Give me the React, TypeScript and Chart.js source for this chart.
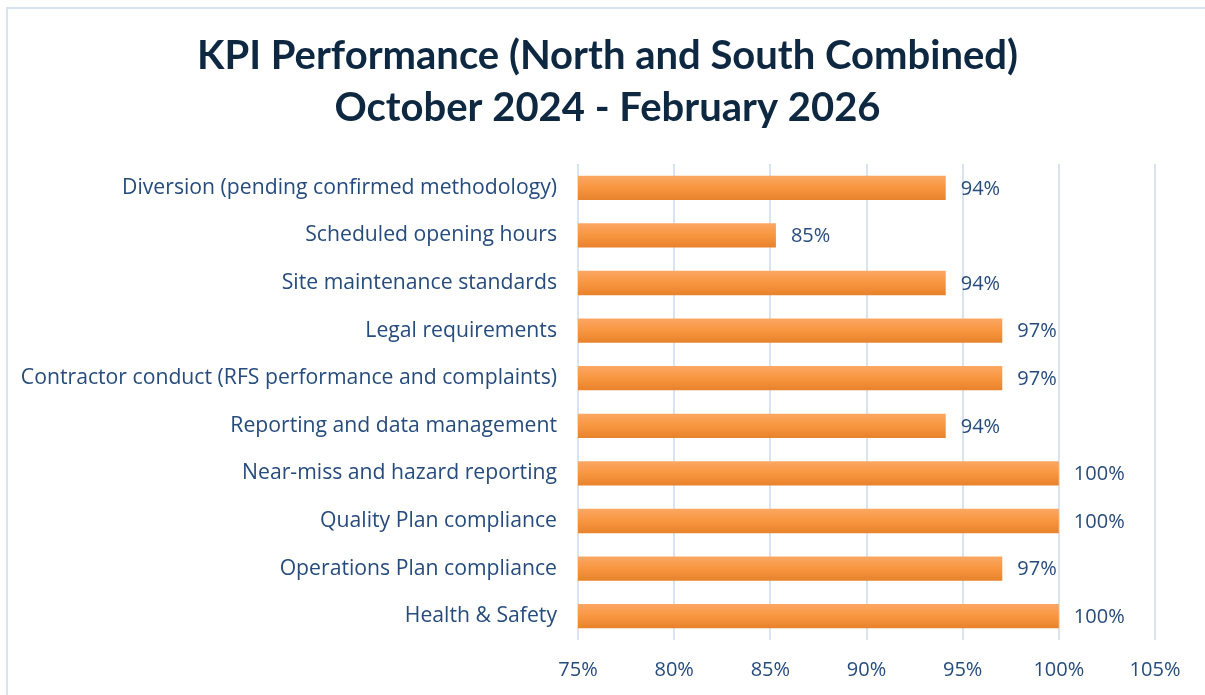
import React, { useEffect, useRef } from "react";
import { Chart, registerables } from "chart.js";

Chart.register(...registerables);

const categories: string[] = [
  "Diversion (pending confirmed methodology)",
  "Scheduled opening hours",
  "Site maintenance standards",
  "Legal requirements",
  "Contractor conduct (RFS performance and complaints)",
  "Reporting and data management",
  "Near-miss and hazard reporting",
  "Quality Plan compliance",
  "Operations Plan compliance",
  "Health & Safety",
];

const kpiValues: number[] = [94.12, 85.29, 94.12, 97.06, 97.06, 94.12, 100, 100, 97.06, 100];

const titleLines: string[] = [
  "KPI Performance (North and South Combined)",
  "October 2024 - February 2026",
];

const xMin = 75;
const xMax = 105;
const xStep = 5;

const FONT = "'Open Sans', Lato, sans-serif";
const TITLE_FONT = "Lato, 'Open Sans', sans-serif";
const LABEL_COLOR = "#264B7D";
const TITLE_COLOR = "#0E2841";
const GRID_COLOR = "#D9E4F3";

const valueLabelPlugin = {
  id: "valueLabels",
  afterDatasetsDraw(chart: any) {
    const { ctx } = chart;
    const meta = chart.getDatasetMeta(0);
    const data = chart.data.datasets[0].data as number[];
    ctx.save();
    ctx.font = `20px ${FONT}`;
    ctx.fillStyle = LABEL_COLOR;
    ctx.textAlign = "left";
    ctx.textBaseline = "middle";
    meta.data.forEach((el: any, i: number) => {
      ctx.fillText(`${Math.round(data[i])}%`, el.x + 15, el.y + 1);
    });
    ctx.restore();
  },
};

export default function App() {
  const canvasRef = useRef<HTMLCanvasElement | null>(null);

  useEffect(() => {
    document.body.style.margin = "0";
    const canvas = canvasRef.current;
    if (!canvas) return;
    const chart = new Chart(canvas, {
      type: "bar",
      data: {
        labels: categories,
        datasets: [
          {
            data: kpiValues,
            backgroundColor: (c: any) => {
              const ch = c.chart;
              const { ctx, chartArea, scales } = ch;
              if (!chartArea || c.dataIndex === undefined || !scales.y) return "#F7963F";
              const yc = scales.y.getPixelForValue(c.dataIndex);
              const h = 24;
              const g = ctx.createLinearGradient(0, yc - h / 2, 0, yc + h / 2);
              g.addColorStop(0, "#FBA763");
              g.addColorStop(0.5, "#F8963F");
              g.addColorStop(1, "#E8822C");
              return g;
            },
            borderWidth: 0,
            barPercentage: 0.51,
            categoryPercentage: 1,
          },
        ],
      },
      options: {
        indexAxis: "y",
        responsive: false,
        animation: false,
        layout: { padding: { left: 10, right: 0, top: 30, bottom: -5 } },
        plugins: {
          legend: { display: false },
          tooltip: { enabled: false },
          title: {
            display: true,
            text: titleLines,
            color: TITLE_COLOR,
            font: { family: TITLE_FONT, size: 40, weight: "bold", lineHeight: 1.3 },
            padding: { top: 0, bottom: 30 },
          },
        },
        scales: {
          x: {
            min: xMin,
            max: xMax,
            ticks: {
              stepSize: xStep,
              color: LABEL_COLOR,
              font: { family: FONT, size: 20 },
              padding: 18,
              callback: (v: any) => `${v}%`,
            },
            grid: { color: GRID_COLOR, lineWidth: 2, drawTicks: false },
            border: { display: false },
            afterFit: (scale: any) => {
              scale.paddingRight = 50;
            },
          },
          y: {
            ticks: {
              color: LABEL_COLOR,
              font: { family: FONT, size: 21.2 },
              padding: 21,
            },
            grid: { display: false, drawTicks: false },
            border: { display: false },
            afterFit: (scale: any) => {
              scale.width = 568;
            },
          },
        },
      },
      plugins: [valueLabelPlugin],
    } as any);
    return () => chart.destroy();
  }, []);

  return (
    <div
      style={{
        position: "fixed",
        left: 0,
        top: 0,
        width: 1205,
        height: 695,
        background: "#fff",
        overflow: "hidden",
      }}
    >
      <div
        style={{
          position: "absolute",
          left: 6,
          top: 7,
          width: 1300,
          height: 800,
          border: `2px solid ${GRID_COLOR}`,
        }}
      />
      <canvas
        ref={canvasRef}
        width={1205}
        height={695}
        style={{ position: "absolute", left: 0, top: 0 }}
      />
    </div>
  );
}
